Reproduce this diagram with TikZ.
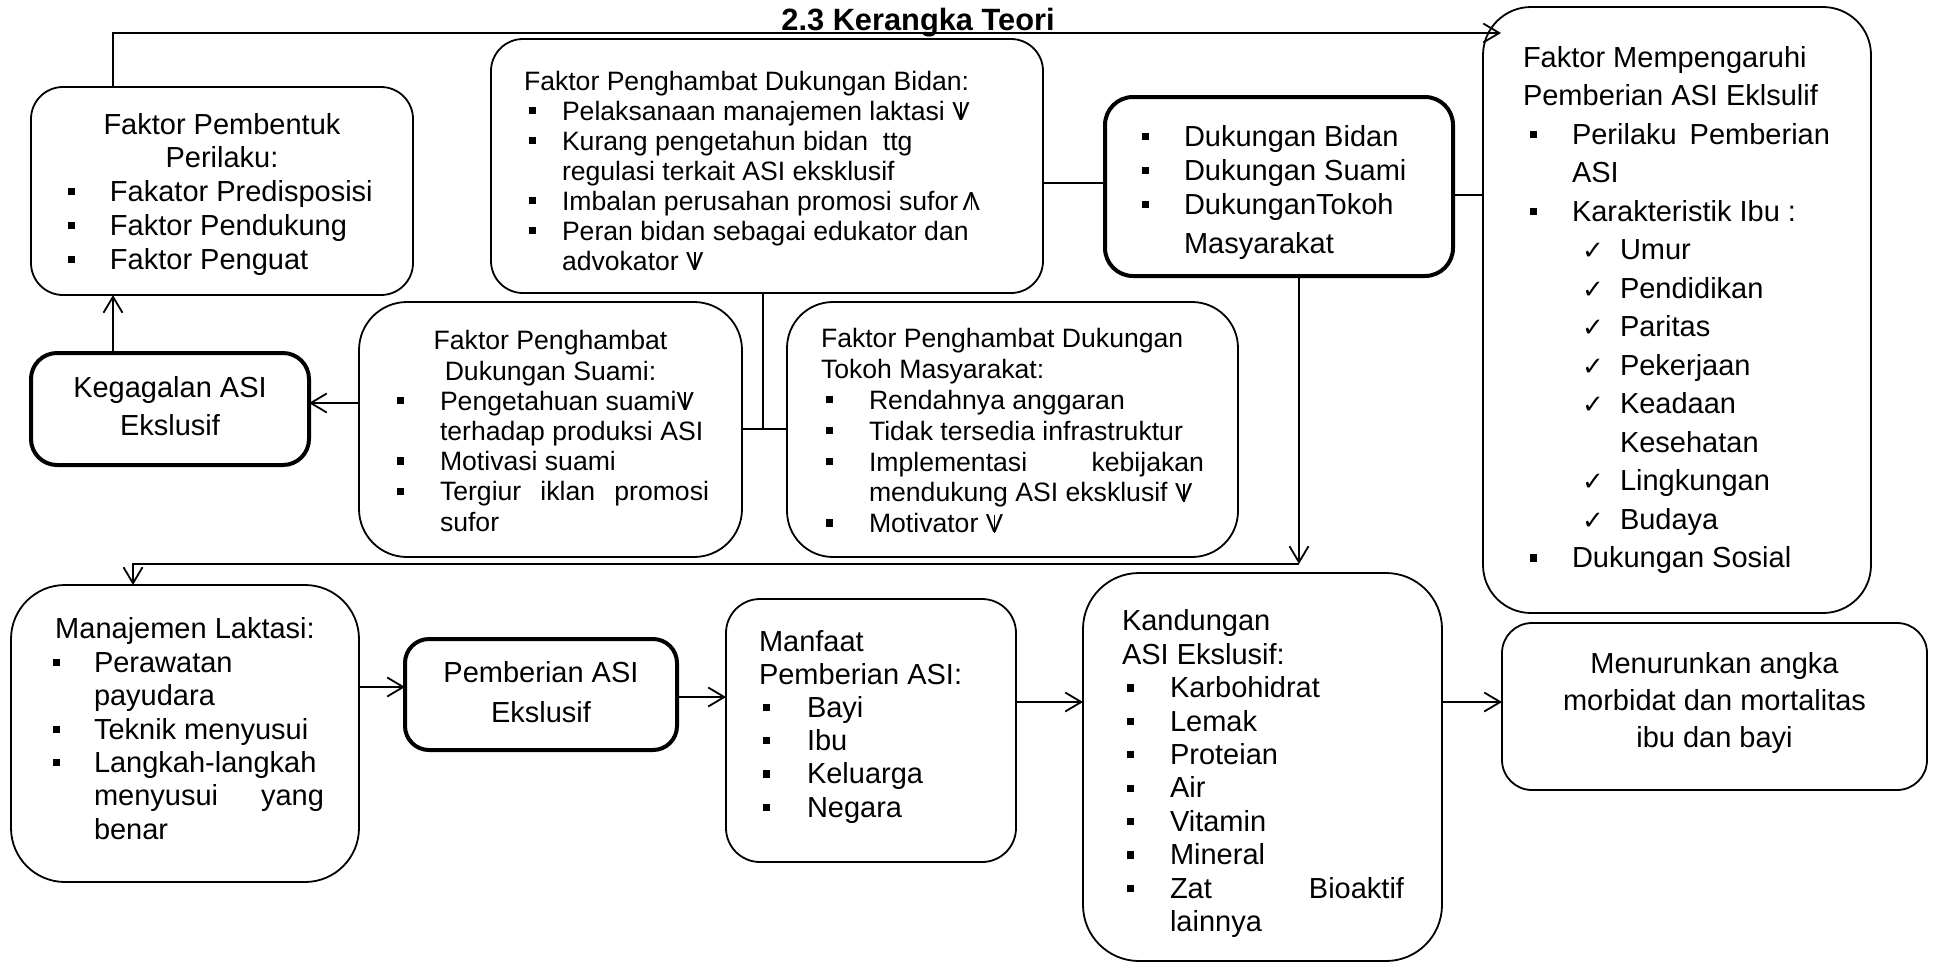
\documentclass[tikz,border=0pt]{standalone}
\usepackage{fontspec}
\setmainfont{Liberation Sans}
\newfontfamily\dejavu{DejaVu Sans}
\usetikzlibrary{arrows.meta}

\newcommand\bulsq{\rule[3.1pt]{3.6pt}{3.6pt}}
\newcommand\chk{{\dejavu\fontsize{13}{13}\selectfont ✓}}
\newcommand\dar{{\setbox1\hbox{\fontsize{13}{13}\selectfont V}\rlap{\hbox to\wd1{\hss\rule{0.85pt}{\ht1}\hss}}\box1}}
\newcommand\uar{{\setbox1\hbox{\fontsize{13}{13}\selectfont Λ}\rlap{\hbox to\wd1{\hss\rule{0.85pt}{\ht1}\hss}}\box1}}
\newcommand\lnC[1]{\hbox to \linewidth{\hss\strut #1\hss}}
\newcommand\lnL[2]{\hbox to \linewidth{\hskip #1\strut #2\hss}}
\newcommand\lnB[3]{\hbox to \linewidth{\hskip #1\hbox to #2{\bulsq\hss}\strut #3\hss}}
\newcommand\lnK[3]{\hbox to \linewidth{\hskip #1\hbox to #2{\chk\hss}\strut #3\hss}}
\newcommand\lnBJ[4]{\hbox to \linewidth{\hskip #1\hbox to #2{\bulsq\hss}\hbox to #3{\strut #4}\hss}}
\newcommand\lnLJ[3]{\hbox to \linewidth{\hskip #1\hbox to #2{\strut #3}\hss}}
\newcommand\bbody[6]{\parbox[t][#2][t]{#1}{\fontsize{#3}{#4}\selectfont\vspace*{#5}#6}}
\newcommand\ttl[1]{\setbox0\hbox{#1}\rlap{\rule[-2.1pt]{\wd0}{1.2pt}}\box0}

\begin{document}
\begin{tikzpicture}[x=0.5pt,y=-0.5pt,
  box/.style={draw, line width=0.9pt, rounded corners=#1, inner sep=0pt, outer sep=0pt, anchor=north west},
  box/.default=15pt,
  thickbox/.style={box=#1, line width=2pt},
  thickbox/.default=13pt,
  conn/.style={line width=0.9pt},
  arr/.style={conn, -{Straight Barb[length=8pt,width=9.5pt]}}]
\useasboundingbox (0,0) rectangle (1934,965);

% title
\node[anchor=base west, inner sep=0pt] (title) at (781,30)
  {\fontsize{15.4}{18}\selectfont\bfseries\ttl{2.3 Kerangka Teori}};

% boxes
\node[box=16pt] (pb) at (31,87) {\bbody{191pt}{104pt}{14.5}{16.9}{11.67pt}{%
  \lnC{Faktor Pembentuk}
  \lnC{Perilaku:}
  \lnB{18.5pt}{21pt}{Fakator Predisposisi}
  \lnB{18.5pt}{21pt}{Faktor Pendukung}
  \lnB{18.5pt}{21pt}{Faktor Penguat}}};

\node[box=16pt] (bd) at (491,39) {\bbody{276pt}{127pt}{13.3}{15}{15pt}{%
  \lnL{16.5pt}{Faktor Penghambat Dukungan Bidan:}
  \lnB{19pt}{16.5pt}{Pelaksanaan manajemen laktasi \dar}
  \lnB{19pt}{16.5pt}{Kurang pengetahun bidan\ \ ttg}
  \lnL{35.5pt}{regulasi terkait ASI eksklusif}
  \lnB{19pt}{16.5pt}{Imbalan perusahan promosi sufor\,\uar}
  \lnB{19pt}{16.5pt}{Peran bidan sebagai edukator dan}
  \lnL{35.5pt}{advokator \dar}}};

\node[thickbox=14pt] (dk) at (1105,97) {\bbody{174pt}{89.5pt}{14.5}{17}{12.6pt}{%
  \lnB{18.5pt}{21pt}{Dukungan Bidan}
  \lnB{18.5pt}{21pt}{Dukungan Suami}
  \lnB{18.5pt}{21pt}{DukunganTokoh}
  \vskip 2.5pt
  \lnL{39.5pt}{Masyarakat}}};

\node[box=24pt] (mp) at (1483,7) {\bbody{194pt}{303pt}{14.5}{19.25}{16.7pt}{%
  \lnL{20pt}{Faktor Mempengaruhi}
  \lnL{20pt}{Pemberian ASI Eklsulif}
  \lnBJ{23.5pt}{21pt}{129pt}{Perilaku\hfill Pemberian}
  \lnL{44.5pt}{ASI}
  \lnB{23.5pt}{21pt}{Karakteristik Ibu :}
  \lnK{49.5pt}{19pt}{Umur}
  \lnK{49.5pt}{19pt}{Pendidikan}
  \lnK{49.5pt}{19pt}{Paritas}
  \lnK{49.5pt}{19pt}{Pekerjaan}
  \lnK{49.5pt}{19pt}{Keadaan}
  \lnL{68.5pt}{Kesehatan}
  \lnK{49.5pt}{19pt}{Lingkungan}
  \lnK{49.5pt}{19pt}{Budaya}
  \lnB{23.5pt}{21pt}{Dukungan Sosial}}};

\node[thickbox=13pt] (kg) at (31,353) {\bbody{139pt}{56pt}{14.5}{19}{8.7pt}{%
  \lnC{Kegagalan ASI}
  \lnC{Ekslusif}}};

\node[box=24pt] (su) at (359,302) {\bbody{191.5pt}{127.5pt}{13.3}{15.1}{13.4pt}{%
  \lnC{Faktor Penghambat}
  \lnC{Dukungan Suami:}
  \lnB{19pt}{21.5pt}{Pengetahuan suami\dar}
  \lnL{40.5pt}{terhadap produksi ASI}
  \lnB{19pt}{21.5pt}{Motivasi suami}
  \lnBJ{19pt}{21.5pt}{134.5pt}{Tergiur\hfill iklan\hfill promosi}
  \lnL{40.5pt}{sufor}}};

\node[box=23pt] (tk) at (787,302) {\bbody{225.5pt}{127.5pt}{13.3}{15.4}{12.2pt}{%
  \lnL{17pt}{Faktor Penghambat Dukungan}
  \lnL{17pt}{Tokoh Masyarakat:}
  \lnB{19.5pt}{21.5pt}{Rendahnya anggaran}
  \lnB{19.5pt}{21.5pt}{Tidak tersedia infrastruktur}
  \lnBJ{19.5pt}{21.5pt}{167.5pt}{Implementasi\hfill kebijakan}
  \lnL{41pt}{mendukung ASI eksklusif \dar}
  \lnB{19.5pt}{21.5pt}{Motivator \dar}}};

\node[box=27pt] (ml) at (11,585) {\bbody{174pt}{148.5pt}{14.5}{16.7}{15.3pt}{%
  \lnC{Manajemen Laktasi:}
  \lnB{21pt}{20.5pt}{Perawatan}
  \lnL{41.5pt}{payudara}
  \lnB{21pt}{20.5pt}{Teknik menyusui}
  \lnB{21pt}{20.5pt}{Langkah-langkah}
  \lnLJ{41.5pt}{115pt}{menyusui\hfill yang}
  \lnL{41.5pt}{benar}}};

\node[thickbox=12pt] (pe) at (405,639) {\bbody{136pt}{55.5pt}{14.5}{20}{7.5pt}{%
  \lnC{Pemberian ASI}
  \lnC{Ekslusif}}};

\node[box=17pt] (mf) at (726,599) {\bbody{145pt}{131.5pt}{14.5}{16.6}{14.4pt}{%
  \lnL{16.5pt}{Manfaat}
  \lnL{16.5pt}{Pemberian ASI:}
  \lnB{18.5pt}{22pt}{Bayi}
  \lnB{18.5pt}{22pt}{Ibu}
  \lnB{18.5pt}{22pt}{Keluarga}
  \lnB{18.5pt}{22pt}{Negara}}};

\node[box=28pt] (ka) at (1083,573) {\bbody{179.5pt}{194pt}{14.5}{16.7}{17.3pt}{%
  \lnL{19.5pt}{Kandungan}
  \lnL{19.5pt}{ASI Ekslusif:}
  \lnB{22pt}{21.5pt}{Karbohidrat}
  \lnB{22pt}{21.5pt}{Lemak}
  \lnB{22pt}{21.5pt}{Proteian}
  \lnB{22pt}{21.5pt}{Air}
  \lnB{22pt}{21.5pt}{Vitamin}
  \lnB{22pt}{21.5pt}{Mineral}
  \lnBJ{22pt}{21.5pt}{117pt}{Zat\hfill Bioaktif}
  \lnL{43.5pt}{lainnya}}};

\node[box=15pt] (mn) at (1502,623) {\bbody{212.5pt}{83.5pt}{14.5}{18.5}{12.05pt}{%
  \lnC{Menurunkan angka}
  \lnC{morbidat dan mortalitas}
  \lnC{ibu dan bayi}}};

% helper coordinates
\coordinate (tl) at (113,33);
\coordinate (tr) at (1501,33);
\coordinate (yA) at (0,183);
\coordinate (yB) at (0,195);
\coordinate (ySu) at (0,403);
\coordinate (vx) at (763,429);
\coordinate (jn) at (1299,564);
\coordinate (lc) at (133,564);
\coordinate (yC) at (0,687);
\coordinate (yD) at (0,697);
\coordinate (yE) at (0,702);

% connectors
\draw[arr] (pb.north west -| tl) -- (tl) -- (tr);
\draw[arr] (kg.north -| tl) -- (pb.south -| tl);
\draw[arr] (su.west |- ySu) -- (kg.east |- ySu);
\draw[conn] (bd.east |- yA) -- (dk.west |- yA);
\draw[conn] (dk.east |- yB) -- (mp.west |- yB);
\draw[conn] (bd.south -| vx) -- (vx);
\draw[conn] (su.east |- vx) -- (tk.west |- vx);
\draw[arr] (dk.south -| jn) -- (jn);
\draw[arr] (jn) -- (lc) -- (ml.north -| lc);
\draw[arr] (ml.east |- yC) -- (pe.west |- yC);
\draw[arr] (pe.east |- yD) -- (mf.west |- yD);
\draw[arr] (mf.east |- yE) -- (ka.west |- yE);
\draw[arr] (ka.east |- yE) -- (mn.west |- yE);
\end{tikzpicture}
\end{document}
